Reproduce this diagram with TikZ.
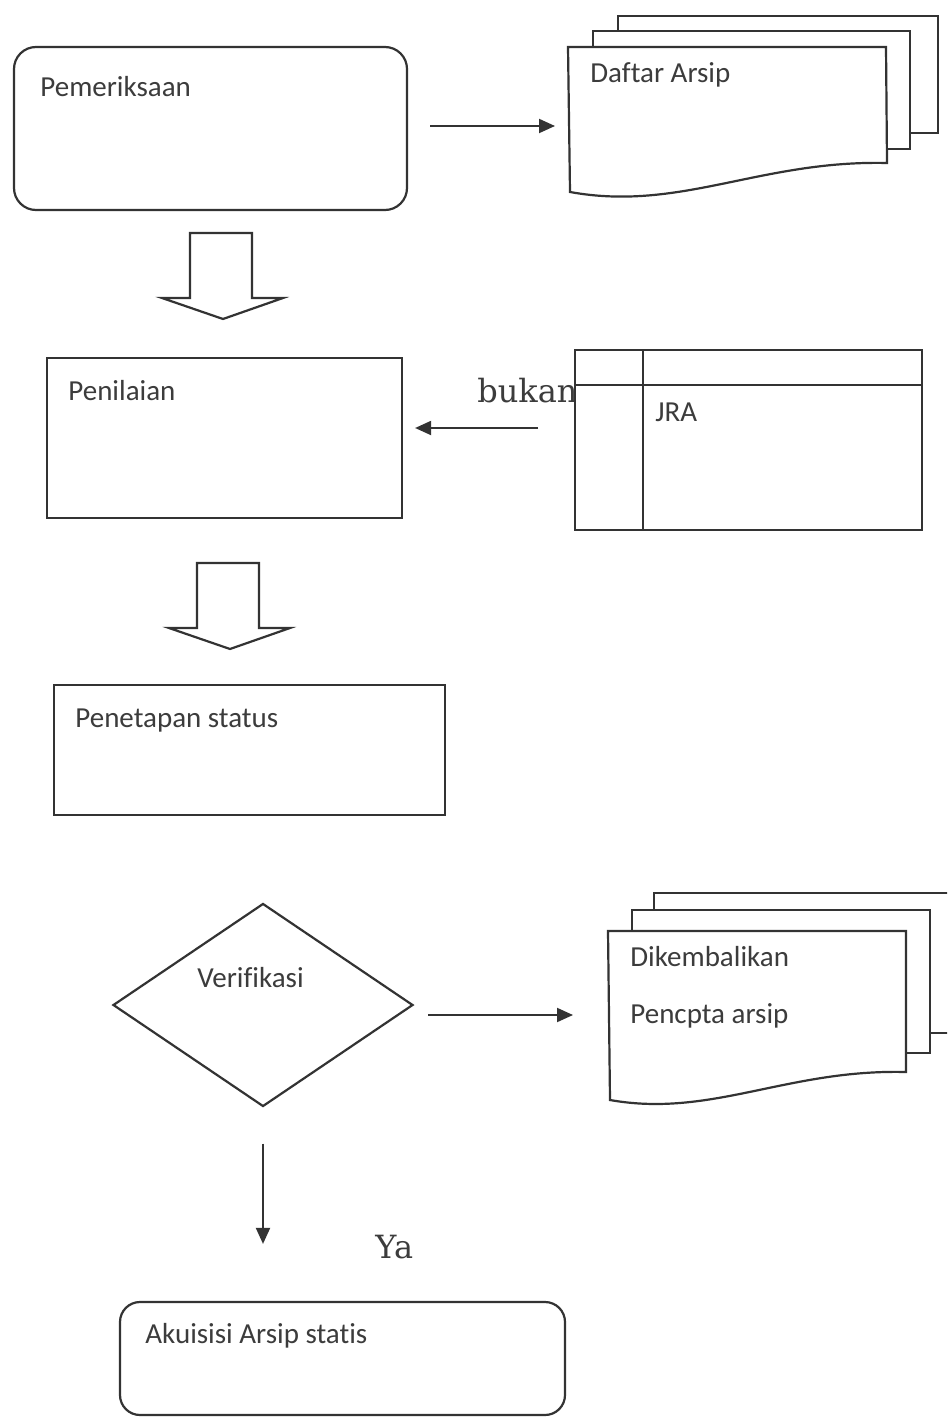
\documentclass[tikz,border=0pt]{standalone}
\usepackage{fontspec}
\setmainfont{Carlito}[Ligatures={NoCommon}]
\newfontfamily\notefont{DejaVu Serif}
\usetikzlibrary{arrows.meta,shapes.geometric}

\definecolor{inkline}{HTML}{333333}
\definecolor{inktext}{HTML}{3C3C3C}

\tikzset{
  box/.style={draw=inkline,line width=1.1pt,inner sep=0pt,fill=white},
  roundbox/.style={box,rounded corners=11pt},
  decision/.style={box,diamond},
  page/.style={draw=inkline,line width=1.1pt,fill=white},
  boxtext/.style={anchor=base west,inner sep=0pt,text=inktext,font=\fontsize{14.5}{17}\selectfont},
  note/.style={anchor=base west,inner sep=0pt,text=inktext,font=\notefont\fontsize{16}{19}\selectfont},
  flow/.style={draw=inkline,line width=1pt,-{Triangle[length=8pt,width=7pt]}},
  blockarrow/.style={draw=inkline,line width=1.1pt,line join=miter},
  hidden/.style={inner sep=0pt,outer sep=0pt}
}

\begin{document}
\begin{tikzpicture}[x=0.5pt,y=-0.5pt]
        \useasboundingbox (0,0) rectangle (947,1417);
        \fill[white] (0,0) rectangle (947,1417);
        \clip (0,0) rectangle (947,1417);

        % process boxes
        \node[roundbox,minimum width=196.5pt,minimum height=81.5pt] (pem) at (210.5,128.5) {};
        \node[box,minimum width=177.5pt,minimum height=80pt]        (nil) at (224.5,438) {};
        \node[box,minimum width=195.5pt,minimum height=65pt]        (pen) at (249.5,750) {};
        \node[decision,minimum width=150pt,minimum height=101.5pt]  (ver) at (263,1005) {};
        \node[roundbox,minimum width=222.5pt,minimum height=56.5pt,rounded corners=10pt] (aku) at (342.5,1358.5) {};

        \node[boxtext] (pemtxt) at (40,97)   {Pemeriksaan};
        \node[boxtext] (niltxt) at (68,400)  {Penilaian};
        \node[boxtext] (pentxt) at (75,727)  {Penetapan status};
        \node[boxtext] (vertxt) at (197,987) {Verifikasi};
        \node[boxtext] (akutxt) at (145,1343) {Akuisisi Arsip statis};

        % Daftar Arsip pages
        \draw[page] (618,16) rectangle (938,133);
        \draw[page] (593,31) rectangle (910,149);
        \draw[page] (568,47) -- (886,47) -- (887,163)
              .. controls (760,160) and (680,212) .. (570,192) -- cycle;
        \node[hidden,minimum width=159pt,minimum height=72.5pt] (daf) at (727,126) {};
        \node[boxtext] (daftxt) at (590,83) {Daftar Arsip};

        % Dikembalikan pages
        \draw[page] (654,893) rectangle (960,1033);
        \draw[page] (632,910) rectangle (930,1053);
        \draw[page] (608,931) -- (906,931) -- (906,1072)
              .. controls (787,1069) and (711,1118) .. (610,1100) -- cycle;
        \node[hidden,minimum width=149pt,minimum height=85pt] (dik) at (757,1015) {};
        \node[boxtext] (diktxt) at (630,966)  {Dikembalikan};
        \node[boxtext] (pcptxt) at (630,1023) {Pencpta arsip};

        % JRA table
        \node[note] (bukan) at (477,402) {bukan};
        \node[box,minimum width=173.5pt,minimum height=90pt] (jra) at (748.5,440) {};
        \draw[inkline,line width=1.1pt] (575,385) -- (922,385);
        \draw[inkline,line width=1.1pt] (643,350) -- (643,530);
        \node[boxtext] (jratxt) at (655,421) {JRA};
        \coordinate (back) at (538,428);

        % block arrows
        \foreach \dx/\dy in {0/0, 7/330}
            \draw[blockarrow,shift={(\dx,\dy)}] (190,233) -- ++(62,0) -- ++(0,65) -- ++(31,0)
                -- ++(-60,21) -- ++(-61,-21) -- ++(28,0) -- cycle;

        % connectors
        \draw[flow] ([xshift=11pt]pem.east |- daf.west) -- ([xshift=-6.5pt]daf.west);
        \draw[flow] (back) -- ([xshift=6pt]nil.east |- back);
        \draw[flow] ([xshift=7pt]ver.east |- dik.west) -- ([xshift=-17.5pt]dik.west);
        \draw[flow] ([yshift=-18pt]ver.south) -- ([yshift=28.5pt]ver.south |- aku.north);

        \node[note] (ya) at (375,1258) {Ya};
\end{tikzpicture}
\end{document}
